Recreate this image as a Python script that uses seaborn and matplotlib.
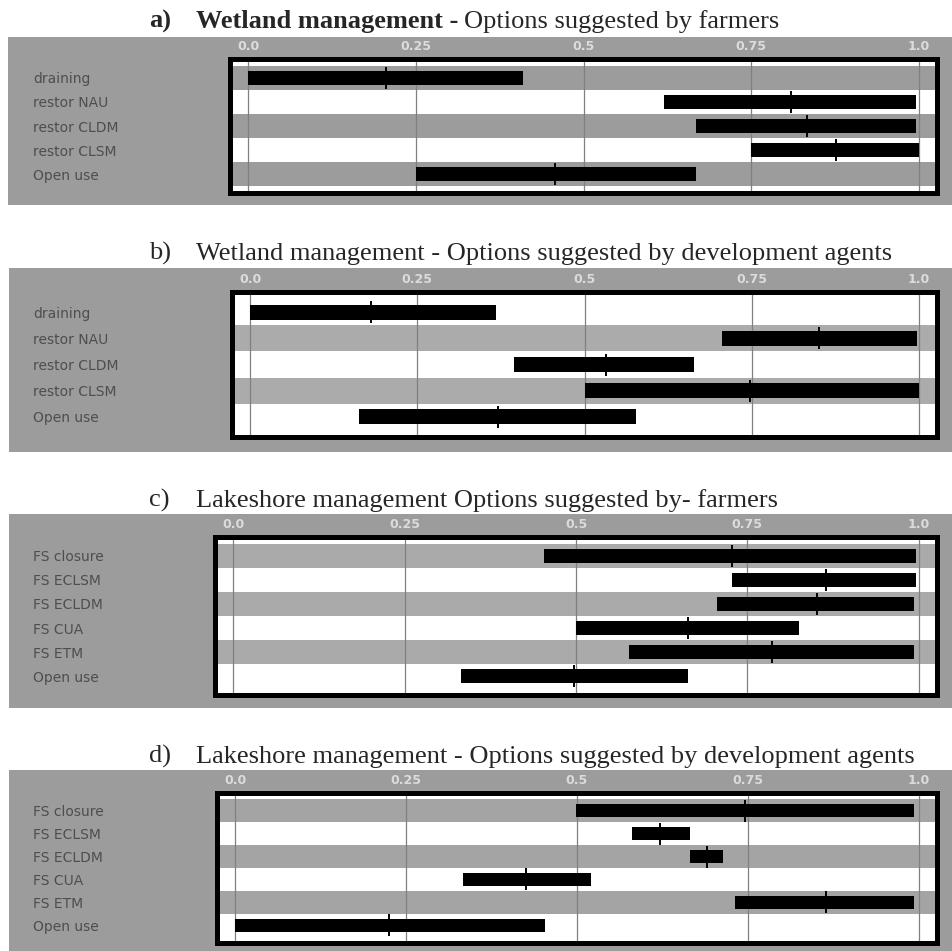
import numpy as np
import pandas as pd
import matplotlib
matplotlib.use("Agg")
import matplotlib.pyplot as plt
import seaborn as sns
from matplotlib.patches import Rectangle

# ---------------- data ----------------
wetland_options = ["draining", "restor NAU", "restor CLDM", "restor CLSM", "Open use"]
lake_options = ["FS closure", "FS ECLSM", "FS ECLDM", "FS CUA", "FS ETM", "Open use"]

a_start = [0.0, 0.62, 0.667, 0.75, 0.25]
a_end = [0.41, 0.995, 0.995, 1.0, 0.667]
a_median = [0.205, 0.81, 0.833, 0.877, 0.458]

b_start = [0.0, 0.705, 0.395, 0.5, 0.163]
b_end = [0.367, 0.997, 0.664, 1.0, 0.577]
b_median = [0.181, 0.85, 0.532, 0.748, 0.37]

c_start = [0.453, 0.728, 0.706, 0.5, 0.577, 0.332]
c_end = [0.997, 0.997, 0.994, 0.826, 0.994, 0.664]
c_median = [0.728, 0.865, 0.852, 0.664, 0.786, 0.497]

d_start = [0.498, 0.581, 0.666, 0.333, 0.731, 0.0]
d_end = [0.993, 0.666, 0.714, 0.52, 0.993, 0.453]
d_median = [0.746, 0.622, 0.69, 0.425, 0.864, 0.225]

tick_values = [0.0, 0.25, 0.5, 0.75, 1.0]
tick_labels = ["0.0", "0.25", "0.5", "0.75", "1.0"]

title_letters = ["a)", "b)", "c)", "d)"]
title_bold = ["Wetland management -", "", "", ""]
title_regular = [
    "Options suggested by farmers",
    "Wetland management - Options suggested by development agents",
    "Lakeshore management Options suggested by- farmers",
    "Lakeshore management - Options suggested by development agents",
]

# ---------------- style ----------------
sns.set_style("white")
plt.rcParams["font.family"] = ["DejaVu Sans"]

W, H = 953, 951
fig = plt.figure(figsize=(W / 100, H / 100), dpi=100)
fig.patch.set_facecolor("white")

BOX_GRAY = "#9c9c9c"


def fx(px):
    return px / W


def fy(py):
    return 1 - py / H


layouts = [
    dict(ax=(230, 937, 59, 193), box=(8, 953, 37, 205), base=28, first_gray=True, stripe="#9c9c9c"),
    dict(ax=(232, 937, 292, 437), box=(9, 953, 268, 452), base=260, first_gray=False, stripe="#ababab"),
    dict(ax=(215, 937, 537, 695), box=(9, 953, 514, 708), base=507, first_gray=True, stripe="#aaaaaa"),
    dict(ax=(217, 937, 793, 943), box=(9, 953, 770, 951), base=763, first_gray=True, stripe="#a4a4a4"),
]

panels = [
    (wetland_options, a_start, a_end, a_median),
    (wetland_options, b_start, b_end, b_median),
    (lake_options, c_start, c_end, c_median),
    (lake_options, d_start, d_end, d_median),
]

for lay, (options, start, end, median) in zip(layouts, panels):
    bx0, bx1, by0, by1 = lay["box"]
    fig.patches.append(Rectangle((fx(bx0), fy(by1)), fx(bx1 - bx0), (by1 - by0) / H,
                                 transform=fig.transFigure, facecolor=BOX_GRAY,
                                 edgecolor="none", zorder=-10))
    x0, x1, y0, y1 = lay["ax"]
    ax = fig.add_axes([fx(x0), fy(y1), fx(x1 - x0), (y1 - y0) / H])
    ax.set_zorder(2)
    ax.set_facecolor("white")
    n = len(options)
    df = pd.DataFrame({
        "option": options,
        "start": start,
        "width": np.array(end) - np.array(start),
        "median": median,
    })
    for i in range(n):
        if (i % 2 == 0) == lay["first_gray"]:
            ax.axhspan(i - 0.5, i + 0.5, color=lay["stripe"], lw=0, zorder=0)
    for t in tick_values:
        ax.axvline(t, color="#808080", lw=0.9, zorder=1)
    sns.barplot(data=df, x="width", y="option", order=options,
                left=df["start"].to_numpy(), color="black", saturation=1,
                width=0.58, errorbar=None, ax=ax, zorder=2,
                edgecolor="black", linewidth=0)
    sns.scatterplot(data=df, x="median", y="option", marker="|", s=230,
                    color="black", linewidth=1.4, ax=ax, zorder=3, legend=False)
    ax.set_xlim(-0.027, 1.027)
    ax.set_ylim(n - 0.5 + 0.27, -0.5 - 0.27)
    ax.set_xlabel("")
    ax.set_ylabel("")
    ax.xaxis.tick_top()
    ax.set_xticks(tick_values, tick_labels)
    ax.tick_params(axis="x", length=0, pad=4, labelsize=9, labelcolor="#dcdcdc")
    for lab in ax.get_xticklabels():
        lab.set_fontweight("bold")
    ax.set_yticks(range(n), options)
    ax.tick_params(axis="y", length=0, pad=(x0 - 33) * 0.72, labelsize=10,
                   labelcolor="#4e4e4e")
    for lab in ax.get_yticklabels():
        lab.set_horizontalalignment("left")
    for sp in ax.spines.values():
        sp.set_visible(True)
        sp.set_color("black")
        sp.set_linewidth(3.6)
        sp.set_zorder(5)

# titles
renderer = fig.canvas.get_renderer()
serif = ["Liberation Serif", "DejaVu Serif"]
for k, lay in enumerate(layouts):
    yb = fy(lay["base"])
    bold_letter = k == 0
    fig.text(fx(149), yb, title_letters[k], family=serif, fontsize=19,
             fontweight="bold" if bold_letter else "normal", va="baseline", ha="left")
    x = 196
    if title_bold[k]:
        t = fig.text(fx(x), yb, title_bold[k], family=serif, fontsize=19,
                     fontweight="bold", va="baseline", ha="left")
        bb = t.get_window_extent(renderer)
        x = bb.x1 + 6
    fig.text(fx(x), yb, title_regular[k], family=serif, fontsize=19,
             va="baseline", ha="left")

fig.savefig("out.png", dpi=100)
